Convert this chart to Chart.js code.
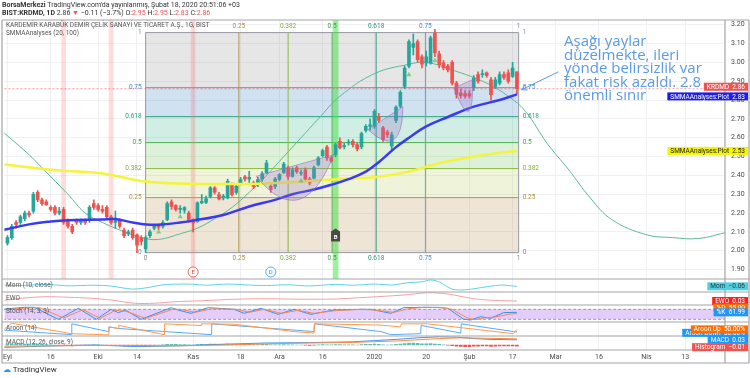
<!DOCTYPE html>
<html lang="tr">
<head>
<meta charset="utf-8">
<title>KRDMD</title>
<script src="https://cdn.jsdelivr.net/npm/chart.js@4.4.1/dist/chart.umd.min.js"></script>
<style>
  html, body { margin: 0; padding: 0; background: #fff; }
  #wrap { position: relative; width: 750px; height: 378px; overflow: hidden; font-family: Roboto, 'Liberation Sans', sans-serif; color: #333; }
  #chart { position: absolute; left: 0; top: 0; }
  .hdr { position: absolute; left: 2px; font-size: 7px; line-height: 8px; white-space: nowrap; }
  .red { color: #ef5350; }
  #note { position: absolute; left: 564px; top: 34px; font-family: 'Open Sans', sans-serif; font-size: 15px; line-height: 13.5px; color: #5b9be3; white-space: nowrap; }
  #footer { position: absolute; left: 3px; top: 365px; font-size: 8px; line-height: 10px; color: #333; }
  #footer span { color: #2196f3; }
</style>
</head>
<body>
<div id="wrap">
  <canvas id="chart" width="750" height="378"></canvas>
  <div class="hdr" style="top:1px"><b>BorsaMerkezi</b> TradingView.com'da yayınlanmış, Şubat 18, 2020 20:51:06 +03</div>
  <div class="hdr" style="top:9px"><b>BIST:KRDMD, 1D</b> 2.86 <span class="red">▼</span> −0.11 (−3.7%) O:<span class="red">2.95</span> H:<span class="red">2.95</span> L:<span class="red">2.83</span> C:<span class="red">2.86</span></div>
  <div id="note">Aşağı yaylar<br>düzelmekte, ileri<br>yönde belirsizlik var<br>fakat risk azaldı. 2.8<br>önemli sınır</div>
  <div id="footer"><span>☁</span> TradingView</div>
</div>
<script>
// Daily candles, bar index 0 = Eyl 2 2019 ... 118 = Şub 18 2020
const openP = [
  2.04, 2.07, 2.15, 2.15, 2.17, 2.20, 2.21, 2.31, 2.27, 2.26,
  2.23, 2.23, 2.20, 2.22, 2.16, 2.13, 2.16, 2.15, 2.16, 2.16,
  2.25, 2.24, 2.22, 2.23, 2.18, 2.15, 2.16, 2.11, 2.09, 2.11,
  2.085, 2.07, 2.01, 2.08, 2.12, 2.135, 2.13, 2.165, 2.26, 2.24,
  2.22, 2.215, 2.20, 2.166, 2.156, 2.254, 2.257, 2.289, 2.334, 2.298,
  2.28, 2.28, 2.351, 2.31, 2.36, 2.392, 2.38, 2.36, 2.351, 2.38,
  2.413, 2.342, 2.342, 2.378, 2.415, 2.44, 2.395, 2.44, 2.41, 2.43,
  2.38, 2.385, 2.457, 2.505, 2.551, 2.493, 2.51, 2.581, 2.553, 2.572,
  2.581, 2.563, 2.551, 2.639, 2.66, 2.66, 2.714, 2.652, 2.629, 2.555,
  2.692, 2.767, 2.873, 2.98, 3.08, 3.11, 3.03, 2.997, 2.997, 3.156,
  3.046, 2.997, 2.98, 3.00, 2.89, 2.838, 2.835, 2.835, 2.864, 2.935,
  2.935, 2.944, 2.908, 2.873, 2.89, 2.935, 2.944, 2.926, 2.95
];
const highP = [
  2.08, 2.14, 2.16, 2.19, 2.21, 2.21, 2.31, 2.32, 2.28, 2.27,
  2.24, 2.24, 2.23, 2.23, 2.17, 2.14, 2.17, 2.17, 2.17, 2.24,
  2.27, 2.25, 2.24, 2.24, 2.19, 2.21, 2.17, 2.12, 2.11, 2.12,
  2.09, 2.08, 2.08, 2.11, 2.14, 2.14, 2.16, 2.26, 2.27, 2.245,
  2.24, 2.235, 2.21, 2.17, 2.26, 2.298, 2.29, 2.34, 2.34, 2.31,
  2.30, 2.38, 2.36, 2.35, 2.39, 2.40, 2.422, 2.37, 2.39, 2.42,
  2.48, 2.35, 2.39, 2.41, 2.47, 2.45, 2.44, 2.45, 2.43, 2.44,
  2.39, 2.45, 2.50, 2.54, 2.56, 2.50, 2.57, 2.60, 2.57, 2.59,
  2.59, 2.57, 2.63, 2.67, 2.70, 2.75, 2.73, 2.66, 2.64, 2.63,
  2.77, 2.85, 2.98, 3.12, 3.15, 3.12, 3.04, 3.06, 3.14, 3.175,
  3.06, 3.01, 2.99, 3.01, 2.90, 2.86, 2.85, 2.85, 2.93, 2.95,
  2.96, 2.95, 2.92, 2.92, 2.95, 2.95, 2.96, 3.00, 2.95
];
const lowP = [
  2.03, 2.06, 2.12, 2.14, 2.16, 2.18, 2.20, 2.26, 2.24, 2.24,
  2.21, 2.19, 2.19, 2.14, 2.12, 2.09, 2.14, 2.14, 2.14, 2.15,
  2.22, 2.21, 2.20, 2.17, 2.14, 2.12, 2.12, 2.07, 2.08, 2.06,
  1.99, 2.03, 1.99, 2.07, 2.11, 2.11, 2.12, 2.16, 2.22, 2.21,
  2.20, 2.20, 2.15, 2.10, 2.15, 2.25, 2.25, 2.28, 2.30, 2.27,
  2.27, 2.275, 2.29, 2.30, 2.35, 2.37, 2.351, 2.33, 2.34, 2.37,
  2.41, 2.31, 2.33, 2.37, 2.41, 2.38, 2.39, 2.41, 2.40, 2.37,
  2.35, 2.38, 2.45, 2.50, 2.48, 2.47, 2.50, 2.54, 2.54, 2.56,
  2.55, 2.53, 2.54, 2.63, 2.64, 2.65, 2.68, 2.58, 2.60, 2.53,
  2.68, 2.76, 2.86, 2.97, 3.04, 3.00, 2.97, 2.98, 2.99, 3.03,
  2.97, 2.96, 2.95, 2.88, 2.81, 2.81, 2.81, 2.81, 2.85, 2.89,
  2.92, 2.92, 2.80, 2.86, 2.88, 2.91, 2.89, 2.92, 2.83
];
const closeP = [
  2.07, 2.13, 2.14, 2.18, 2.20, 2.19, 2.30, 2.27, 2.25, 2.245,
  2.22, 2.20, 2.21, 2.15, 2.13, 2.10, 2.15, 2.16, 2.15, 2.23,
  2.23, 2.22, 2.21, 2.18, 2.15, 2.16, 2.13, 2.08, 2.10, 2.07,
  2.03, 2.05, 2.07, 2.10, 2.13, 2.125, 2.15, 2.25, 2.235, 2.22,
  2.222, 2.229, 2.156, 2.148, 2.254, 2.263, 2.275, 2.334, 2.311, 2.275,
  2.29, 2.369, 2.298, 2.342, 2.378, 2.381, 2.39, 2.342, 2.378, 2.41,
  2.466, 2.325, 2.381, 2.404, 2.46, 2.395, 2.43, 2.42, 2.415, 2.38,
  2.36, 2.44, 2.493, 2.532, 2.493, 2.475, 2.563, 2.546, 2.557, 2.576,
  2.563, 2.54, 2.622, 2.66, 2.668, 2.74, 2.692, 2.59, 2.616, 2.616,
  2.763, 2.841, 2.97, 3.11, 3.10, 3.014, 2.99, 3.03, 3.13, 3.05,
  2.988, 2.97, 2.96, 2.89, 2.83, 2.823, 2.82, 2.82, 2.917, 2.90,
  2.94, 2.93, 2.829, 2.908, 2.935, 2.92, 2.90, 2.97, 2.86
];

// time axis labels (bar index where each label sits)
const xTickIdx = [0, 10, 21, 30, 43, 54, 63, 73, 85, 97, 107, 117, 127, 137, 148, 157];
const xTickLabels = ['Eyl', '16', 'Eki', '14', 'Kas', '18', 'Ara', '16', '2020', '20', 'Şub', '17', 'Mar', '16', 'Nis', '13'];
const priceTicks = [1.9, 2.0, 2.1, 2.2, 2.3, 2.4, 2.5, 2.6, 2.7, 2.8, 2.9, 3.0, 3.1, 3.2];

// SMMA 20 (blue) and SMMA 100 (yellow), [bar, price]
const smmaFast = [[-1, 2.11], [5, 2.14], [10, 2.155], [14, 2.162], [22, 2.166], [25, 2.168], [29, 2.15],
  [33, 2.138], [36, 2.14], [40, 2.15], [43, 2.16], [50, 2.19], [56, 2.235], [62, 2.27], [66, 2.30],
  [71, 2.325], [75, 2.35], [79, 2.38], [83, 2.42], [86, 2.47], [90, 2.55], [93, 2.60], [97, 2.66],
  [102, 2.71], [108, 2.765], [114, 2.80], [118, 2.83]];
const smmaSlow = [[-1.5, 2.46], [10, 2.43], [22, 2.41], [32, 2.367], [42, 2.356], [56, 2.355], [70, 2.37],
  [76, 2.38], [85, 2.39], [93, 2.42], [100, 2.465], [108, 2.50], [114, 2.52], [118, 2.53]];

// hand drawn cycle curve, [bar, price]
const cycleCurve = [[-1, 2.63], [5, 2.51], [8, 2.44], [14, 2.30], [18, 2.20], [22, 2.15], [26, 2.11],
  [31, 2.07], [35, 2.06], [40, 2.09], [44, 2.12], [48, 2.17], [52, 2.23], [56, 2.31], [60, 2.40],
  [64, 2.50], [68, 2.60], [72, 2.70], [77, 2.82], [85, 2.94], [93, 2.99], [97, 3.00], [103, 2.96],
  [111, 2.89], [116, 2.82], [120, 2.74], [125, 2.57], [130, 2.43], [135, 2.28], [140, 2.165],
  [148, 2.085], [154, 2.07], [160, 2.065], [167, 2.10]];

// fibonacci box
const fibLevels = [0, 0.25, 0.382, 0.5, 0.618, 0.75, 1];
const fibLineColors = ['#9598a1', '#b0954f', '#8bb83f', '#4caf50', '#2e9e7e', '#6a9fcc', '#9598a1'];
const fibTextColors = ['#888', '#a8903f', '#86ad3a', '#43a047', '#26997a', '#4a8cc4', '#888'];
const fibFills = ['', 'rgba(185,145,85,0.24)', 'rgba(190,210,110,0.26)', 'rgba(120,200,100,0.26)',
  'rgba(60,185,140,0.24)', 'rgba(80,145,200,0.27)', 'rgba(140,140,140,0.22)'];
const fibPriceLow = 1.99, fibPriceHigh = 3.158;
const fibBarStart = 32, fibBarEnd = 118.4;

// background marks and drawings
const redCols = [13, 24, 43];
const greenCols = [76];
const buyMarks = [[35, 2.10], [40, 2.18], [68, 2.37], [93, 2.935], [99, 3.01]];
const bowls = [
  [[57.6, 2.395], [75.6, 2.51], [67.5, 2.272]],
  [[83.5, 2.643], [91.6, 2.765], [89.5, 2.59]],
  [[103.4, 2.864], [107.7, 2.908], [106.8, 2.74]]
];
const eventMarks = [[43, 'E', '#f44336'], [61, 'D', '#2196f3']];
const bMark = [76, 2.075];
const noteArrow = [[127.6, 2.95], [119.1, 2.855]];

// lower panes, [bar, value]
const momSeries = [[-1.4, 0.03], [3, 0.0], [9, 0.07], [14, -0.02], [20, 0.02], [24, -0.04], [29, -0.25],
  [33, -0.12], [36, 0.05], [42, 0.1], [46, 0.02], [51, 0.1], [56, 0.03], [60, 0.0], [65, 0.05], [70, -0.03],
  [76, 0.08], [80, 0.02], [85, 0.1], [89, 0.04], [93, 0.2], [96, 0.25], [98, 0.38], [100, 0.25], [103, -0.25],
  [106, -0.3], [109, -0.18], [113, 0.0], [115, 0.03], [116.5, -0.02], [118, -0.06]];
const ewoSeries = [[-1.4, 0.04], [3.2, 0.14], [8.6, 0.20], [14, 0.18], [19.4, 0.14], [24, 0.07], [29.4, -0.06],
  [34, -0.06], [38.6, 0.0], [44.9, 0.04], [52.5, 0.10], [60.3, 0.12], [68, 0.10], [75.6, 0.11], [83.4, 0.18],
  [91.8, 0.27], [97.3, 0.36], [102, 0.31], [107.3, 0.14], [111.2, 0.07], [117.2, 0.03], [118, 0.03]];
const stochK = [[-1.4, 80], [3.9, 92], [6.2, 92], [11.8, 20], [16.4, 86], [20.6, 20], [24, 80], [25.7, 60],
  [27.3, 76], [31, 20], [37.9, 90], [39.5, 76], [42.5, 56], [46.5, 90], [52.5, 80], [54.8, 56], [58.7, 86],
  [62.7, 50], [66.4, 80], [70.3, 50], [75.6, 76], [81.9, 80], [84.2, 80], [88.8, 56], [91.8, 90], [95.7, 92],
  [99.7, 92], [102, 86], [105.7, 20], [107.3, 16], [109.6, 36], [111.9, 26], [114.9, 60], [118, 61.99]];
const stochD = [[-1.4, 76], [4.5, 88], [7.5, 90], [13, 28], [17.5, 78], [21.5, 26], [25, 74], [27.5, 68],
  [32, 26], [38.5, 82], [40.5, 78], [43.5, 62], [47.5, 84], [53, 80], [56, 62], [59.5, 80], [63.5, 56],
  [67.3, 74], [71, 56], [76, 72], [82, 80], [85, 76], [89.5, 62], [93, 84], [96.5, 92], [100.5, 90], [103, 80],
  [106.5, 28], [108.5, 18], [110.8, 30], [113, 34], [116, 50], [118, 55]];
const aroonUp = [[-1.4, 32], [0.9, 100], [14.8, 15], [23.4, 5], [23.5, 70], [25.7, 57], [25.8, 82], [36.3, 7],
  [36.4, 95], [44.9, 82], [45, 95], [52.5, 92], [66.4, 32], [71, 20], [71.1, 95], [86.5, 85], [91.1, 70],
  [91.2, 95], [97.3, 95], [117.2, 15], [118, 50]];
const aroonDown = [[-1.4, 45], [14.8, 7], [14.9, 95], [23.4, 32], [23.5, 70], [25.7, 57], [47.2, 7], [47.3, 95],
  [71, 32], [71.1, 95], [86.5, 32], [88.8, 7], [95.7, 15], [95.8, 82], [105, 20], [105.1, 95], [117.2, 32], [118, 30]];
const macdLine = [[-1, -0.012], [10, -0.005], [20, 0.0], [30, -0.008], [40, -0.004], [50, 0.004], [60, 0.01],
  [70, 0.012], [80, 0.016], [85, 0.022], [90, 0.028], [95, 0.036], [100, 0.041], [104, 0.039], [108, 0.032],
  [112, 0.028], [118, 0.026]];
const signalLine = [[-1, -0.006], [10, -0.004], [20, -0.002], [30, -0.003], [40, -0.004], [50, 0.0], [60, 0.006],
  [70, 0.01], [80, 0.013], [90, 0.02], [100, 0.032], [105, 0.036], [110, 0.034], [118, 0.031]];
const histVals = [
  0.004, 0.005, 0.006, 0.006, 0.005, 0.004, 0.006, 0.005, 0.003, 0.002,
  0.001, 0, -0.001, -0.002, -0.003, -0.004, -0.003, -0.003, -0.002, 0,
  0.001, 0.001, 0, -0.001, -0.002, -0.002, -0.003, -0.004, -0.004, -0.005,
  -0.005, -0.004, -0.003, -0.002, -0.001, 0, 0.001, 0.003, 0.003, 0.003,
  0.002, 0.002, 0.001, 0, 0.002, 0.003, 0.003, 0.004, 0.004, 0.003,
  0.003, 0.004, 0.003, 0.003, 0.003, 0.003, 0.003, 0.002, 0.002, 0.003,
  0.003, 0.001, 0.001, 0.001, 0.002, 0.001, 0.001, 0, 0, -0.001,
  -0.002, -0.001, 0.001, 0.002, 0.001, 0.001, 0.002, 0.002, 0.001, 0.001,
  0.001, 0, 0.002, 0.003, 0.003, 0.004, 0.003, 0.001, 0, 0.001,
  0.003, 0.005, 0.007, 0.009, 0.009, 0.008, 0.006, 0.006, 0.007, 0.005,
  0.003, 0.001, -0.001, -0.003, -0.006, -0.007, -0.008, -0.008, -0.006, -0.006,
  -0.005, -0.005, -0.007, -0.006, -0.005, -0.005, -0.005, -0.004, -0.006
];

// ---------------------------------------------------------------
const pts = arr => arr.map(([x, y]) => ({ x, y }));
const fibPrice = l => fibPriceLow + l * (fibPriceHigh - fibPriceLow);
const fibBar = l => fibBarStart + l * (fibBarEnd - fibBarStart);
const fmt = (v, d) => v.toFixed(d).replace('-', '−');
const Y_MIN = 1.85, Y_MAX = 3.225;
const lastBar = closeP.length - 1;

const datasets = [];

// fib price levels with bands between them
fibLevels.forEach((lvl, k) => {
  datasets.push({
    type: 'line', yAxisID: 'y', order: 30,
    data: [{ x: fibBarStart, y: fibPrice(lvl) }, { x: fibBarEnd, y: fibPrice(lvl) }],
    borderColor: fibLineColors[k], borderWidth: 1, pointRadius: 0,
    fill: k === 0 ? false : '-1', backgroundColor: fibFills[k]
  });
});
// fib time lines
fibLevels.forEach((lvl, k) => {
  datasets.push({
    type: 'line', yAxisID: 'y', order: 29,
    data: [{ x: fibBar(lvl), y: fibPrice(0) }, { x: fibBar(lvl), y: fibPrice(1) }],
    borderColor: fibLineColors[k], borderWidth: 1, pointRadius: 0
  });
});

// coloured background columns
datasets.push({
  type: 'bar', yAxisID: 'y', order: 28, grouped: false, barThickness: 4,
  data: redCols.map(i => ({ x: i, y: [Y_MIN, Y_MAX] })),
  backgroundColor: 'rgba(255,110,110,0.25)'
});
datasets.push({
  type: 'bar', yAxisID: 'y', order: 28, grouped: false, barThickness: 5,
  data: greenCols.map(i => ({ x: i, y: [Y_MIN, Y_MAX] })),
  backgroundColor: 'rgba(60,225,60,0.5)'
});

datasets.push({
  type: 'line', yAxisID: 'y', order: 20, data: pts(cycleCurve),
  borderColor: '#5cb89a', borderWidth: 1, pointRadius: 0, tension: 0.4
});

// candles
const candleColor = c => closeP[c.dataIndex] >= openP[c.dataIndex] ? '#26a69a' : '#ef5350';
datasets.push({
  type: 'bar', yAxisID: 'y', order: 16, grouped: false, barThickness: 1,
  data: openP.map((o, i) => ({ x: i, y: [lowP[i], highP[i]] })),
  backgroundColor: candleColor
});
datasets.push({
  type: 'bar', yAxisID: 'y', order: 15, grouped: false, barThickness: 3, minBarLength: 1,
  data: openP.map((o, i) => ({ x: i, y: [o, closeP[i]] })),
  backgroundColor: candleColor
});

datasets.push({
  type: 'line', yAxisID: 'y', order: 12, data: pts(smmaSlow),
  borderColor: '#f4f43a', borderWidth: 2.5, pointRadius: 0, tension: 0.4
});
datasets.push({
  type: 'line', yAxisID: 'y', order: 11, data: pts(smmaFast),
  borderColor: '#3a3af2', borderWidth: 2.5, pointRadius: 0, tension: 0.4
});
datasets.push({
  type: 'scatter', yAxisID: 'y', order: 5, data: pts(buyMarks),
  pointStyle: 'triangle', pointRadius: 3, backgroundColor: '#7fcf7f', borderWidth: 0
});

// lower panes
const paneLine = (axis, data, color, extra) => Object.assign({
  type: 'line', yAxisID: axis, order: 10, data: pts(data),
  borderColor: color, borderWidth: 1, pointRadius: 0, tension: 0
}, extra);
datasets.push(paneLine('yMom', momSeries, '#5fd3e3', { tension: 0.3 }));
datasets.push(paneLine('yEwo', ewoSeries, '#f3a1a1', { tension: 0.3 }));
datasets.push(paneLine('yStoch', [[-1, 80], [167, 80]], '#9a9a9a', { borderDash: [3, 2], order: 14 }));
datasets.push(paneLine('yStoch', [[-1, 20], [167, 20]], '#9a9a9a', { borderDash: [3, 2], order: 14, fill: '-1', backgroundColor: 'rgba(170,100,240,0.32)' }));
datasets.push(paneLine('yStoch', stochD, '#f08a5d'));
datasets.push(paneLine('yStoch', stochK, '#3b8fe8'));
datasets.push(paneLine('yAroon', aroonUp, '#ff9a4d'));
datasets.push(paneLine('yAroon', aroonDown, '#5aabf5'));
datasets.push({
  type: 'bar', yAxisID: 'yMacd', order: 12, grouped: false, barThickness: 3,
  data: histVals.map((v, i) => ({ x: i, y: v })),
  backgroundColor: c => histVals[c.dataIndex] >= 0 ? '#5dbfb4' : '#ef5350'
});
datasets.push(paneLine('yMacd', signalLine, '#ff8a3d'));
datasets.push(paneLine('yMacd', macdLine, '#3b97f0'));

// ---------------------------------------------------------------
const subAxis = (weight, min, max) => ({
  position: 'right', stack: 'panes', stackWeight: weight, min, max,
  grid: { display: false }, border: { display: false }, ticks: { display: false },
  afterFit: s => { s.width = 25; }
});

function drawTag(ctx, y, text, bg, fg) {
  ctx.font = '6.5px Roboto';
  const w = ctx.measureText(text).width + 6;
  ctx.fillStyle = bg;
  ctx.fillRect(748 - w, y - 4, w, 8);
  ctx.fillStyle = fg;
  ctx.textAlign = 'left';
  ctx.textBaseline = 'middle';
  ctx.fillText(text, 748 - w + 3, y + 0.5);
}

const overlay = {
  id: 'overlay',
  afterDatasetsDraw(chart) {
    const { ctx, scales } = chart;
    const X = v => scales.x.getPixelForValue(v);
    const Y = v => scales.y.getPixelForValue(v);
    ctx.save();

    // last price line
    ctx.strokeStyle = 'rgba(239,83,80,0.6)';
    ctx.setLineDash([2, 2]);
    ctx.beginPath();
    ctx.moveTo(scales.x.left, Y(closeP[lastBar]));
    ctx.lineTo(scales.x.right, Y(closeP[lastBar]));
    ctx.stroke();
    ctx.setLineDash([]);

    // bowl drawings
    bowls.forEach(([a, b, d]) => {
      const A = [X(a[0]), Y(a[1])], B = [X(b[0]), Y(b[1])], D = [X(d[0]), Y(d[1])];
      const C = [2 * D[0] - (A[0] + B[0]) / 2, 2 * D[1] - (A[1] + B[1]) / 2];
      ctx.beginPath();
      ctx.moveTo(A[0], A[1]);
      ctx.lineTo(B[0], B[1]);
      ctx.quadraticCurveTo(C[0], C[1], A[0], A[1]);
      ctx.fillStyle = 'rgba(150,110,200,0.28)';
      ctx.fill();
      ctx.strokeStyle = 'rgba(150,110,200,0.6)';
      ctx.lineWidth = 1;
      ctx.stroke();
    });

    // fib labels
    ctx.font = '6.5px Roboto';
    ctx.textBaseline = 'middle';
    fibLevels.forEach((lvl, k) => {
      ctx.fillStyle = fibTextColors[k];
      ctx.textAlign = 'right';
      ctx.fillText(String(lvl), X(fibBarStart) - 4, Y(fibPrice(lvl)));
      ctx.textAlign = 'left';
      ctx.fillText(String(lvl), X(fibBarEnd) + 4, Y(fibPrice(lvl)));
      ctx.textAlign = 'center';
      if (lvl > 0) ctx.fillText(String(lvl), X(fibBar(lvl)), Y(fibPrice(1)) - 6);
      ctx.fillText(String(lvl), X(fibBar(lvl)), Y(fibPrice(0)) + 6);
    });

    // B marker
    const bx = X(bMark[0]), by = Y(bMark[1]);
    ctx.fillStyle = '#4a4a4a';
    ctx.beginPath();
    ctx.moveTo(bx, by - 8);
    ctx.lineTo(bx + 4.5, by - 5);
    ctx.lineTo(bx + 4.5, by + 5);
    ctx.lineTo(bx - 4.5, by + 5);
    ctx.lineTo(bx - 4.5, by - 5);
    ctx.closePath();
    ctx.fill();
    ctx.fillStyle = '#fff';
    ctx.font = 'bold 6px Roboto';
    ctx.textAlign = 'center';
    ctx.fillText('B', bx, by + 0.5);

    // E / D events
    eventMarks.forEach(([bar, t, col]) => {
      const ex = X(bar), ey = scales.y.bottom - 7;
      ctx.beginPath();
      ctx.arc(ex, ey, 5, 0, Math.PI * 2);
      ctx.fillStyle = '#fff';
      ctx.fill();
      ctx.strokeStyle = col;
      ctx.lineWidth = 0.8;
      ctx.stroke();
      ctx.fillStyle = col;
      ctx.font = '6px Roboto';
      ctx.fillText(t, ex, ey + 0.5);
    });

    // note arrow
    const [f, t] = noteArrow;
    const x1 = X(f[0]), y1 = Y(f[1]), x2 = X(t[0]), y2 = Y(t[1]);
    const ang = Math.atan2(y2 - y1, x2 - x1);
    ctx.strokeStyle = '#5b9be3';
    ctx.lineWidth = 1;
    ctx.beginPath();
    ctx.moveTo(x1, y1);
    ctx.lineTo(x2, y2);
    ctx.moveTo(x2 - 6 * Math.cos(ang - 0.5), y2 - 6 * Math.sin(ang - 0.5));
    ctx.lineTo(x2, y2);
    ctx.lineTo(x2 - 6 * Math.cos(ang + 0.5), y2 - 6 * Math.sin(ang + 0.5));
    ctx.stroke();
    ctx.restore();
  },
  afterDraw(chart) {
    const { ctx, scales } = chart;
    const ys = scales.y;
    const bottom = scales.x.bottom;
    ctx.save();

    // frame and pane separators
    ctx.strokeStyle = '#a5a5a5';
    ctx.lineWidth = 1.2;
    ctx.beginPath();
    ['y', 'yMom', 'yEwo', 'yStoch', 'yAroon', 'yMacd'].forEach(id => {
      ctx.moveTo(2, scales[id].top);
      ctx.lineTo(749, scales[id].top);
    });
    ctx.moveTo(2, scales.yMacd.bottom); ctx.lineTo(749, scales.yMacd.bottom);
    ctx.moveTo(2, bottom); ctx.lineTo(749, bottom);
    ctx.moveTo(2, ys.top); ctx.lineTo(2, bottom);
    ctx.moveTo(749, ys.top); ctx.lineTo(749, bottom);
    ctx.moveTo(ys.left, ys.top); ctx.lineTo(ys.left, bottom);
    ctx.stroke();

    // pane titles
    ctx.fillStyle = '#555';
    ctx.font = '6.5px Roboto';
    ctx.textAlign = 'left';
    ctx.textBaseline = 'middle';
    ctx.fillText('KARDEMİR KARABÜK DEMİR ÇELİK SANAYİ VE TİCARET A.Ş., 1G, BIST', 6, ys.top + 5);
    ctx.fillText('SMMAAnalyses (20, 100)', 6, ys.top + 13);
    const titles = { yMom: 'Mom (10, close)', yEwo: 'EWO', yStoch: 'Stoch (14, 3, 3)', yAroon: 'Aroon (14)', yMacd: 'MACD (12, 26, close, 9)' };
    Object.keys(titles).forEach(id => ctx.fillText(titles[id], 6, scales[id].top + 6.5));

    // value tags on the price scale
    const P = (id, v) => scales[id].getPixelForValue(v);
    const lastOf = arr => arr[arr.length - 1][1];
    drawTag(ctx, P('y', lastOf(smmaSlow)), 'SMMAAnalyses:Plot  ' + fmt(lastOf(smmaSlow), 2), '#f5f500', '#222');
    drawTag(ctx, P('y', lastOf(smmaFast)) + 2, 'SMMAAnalyses:Plot  ' + fmt(lastOf(smmaFast), 2), '#1e1ee6', '#fff');
    drawTag(ctx, P('y', closeP[lastBar]) - 2, 'KRDMD  ' + fmt(closeP[lastBar], 2), '#ef5350', '#fff');
    drawTag(ctx, P('yMom', lastOf(momSeries)), 'Mom  ' + fmt(lastOf(momSeries), 2), '#4fcfe0', '#1a3a40');
    drawTag(ctx, P('yEwo', lastOf(ewoSeries)), 'EWO  ' + fmt(lastOf(ewoSeries), 2), '#ff1f1f', '#fff');
    drawTag(ctx, P('yStoch', lastOf(stochD)) - 6, '%D  ' + fmt(lastOf(stochD), 2), '#ff6d00', '#fff');
    drawTag(ctx, P('yStoch', lastOf(stochK)), '%K  ' + fmt(lastOf(stochK), 2), '#2196f3', '#fff');
    drawTag(ctx, P('yAroon', lastOf(aroonDown)) + 1, 'Aroon Down  ' + fmt(lastOf(aroonDown), 2) + '%', '#2196f3', '#fff');
    drawTag(ctx, P('yAroon', lastOf(aroonUp)), 'Aroon Up  ' + fmt(lastOf(aroonUp), 2) + '%', '#ff6d00', '#fff');
    drawTag(ctx, P('yMacd', lastOf(macdLine)), 'MACD  ' + fmt(lastOf(macdLine), 2), '#2196f3', '#fff');
    drawTag(ctx, P('yMacd', histVals[lastBar]) + 1, 'Histogram  ' + fmt(histVals[lastBar], 2), '#ef5350', '#fff');
    ctx.restore();
  }
};

Chart.defaults.font.family = 'Roboto, sans-serif';

new Chart(document.getElementById('chart'), {
  data: { datasets },
  options: {
    responsive: false,
    devicePixelRatio: 1,
    animation: false,
    events: [],
    layout: { padding: { left: 3, right: 0, top: 20, bottom: 15 } },
    plugins: { legend: { display: false }, tooltip: { enabled: false } },
    scales: {
      x: {
        type: 'linear', min: -0.7, max: 166.2, offset: false,
        grid: { color: '#eef0f4', drawTicks: false, offset: false },
        border: { display: false },
        ticks: { color: '#4a4a4a', font: { size: 7 }, padding: 3, autoSkip: false, maxRotation: 0,
          callback: (v, i) => xTickLabels[i] },
        afterBuildTicks: s => { s.ticks = xTickIdx.map(v => ({ value: v })); },
        afterFit: s => { s.height = 13; }
      },
      y: {
        position: 'right', stack: 'panes', stackWeight: 259, min: Y_MIN, max: Y_MAX,
        grid: { color: '#eef0f4', drawTicks: false },
        border: { display: false },
        ticks: { color: '#4a4a4a', font: { size: 7 }, padding: 6, autoSkip: false, callback: v => v.toFixed(2) },
        afterBuildTicks: s => { s.ticks = priceTicks.map(v => ({ value: v })); },
        afterFit: s => { s.width = 25; }
      },
      yMom: subAxis(13, -0.45, 0.45),
      yEwo: subAxis(13, -0.13, 0.39),
      yStoch: subAxis(17, 4, 106),
      yAroon: subAxis(14, -4, 110),
      yMacd: subAxis(14, -0.025, 0.045)
    }
  },
  plugins: [overlay]
});
</script>
</body>
</html>
